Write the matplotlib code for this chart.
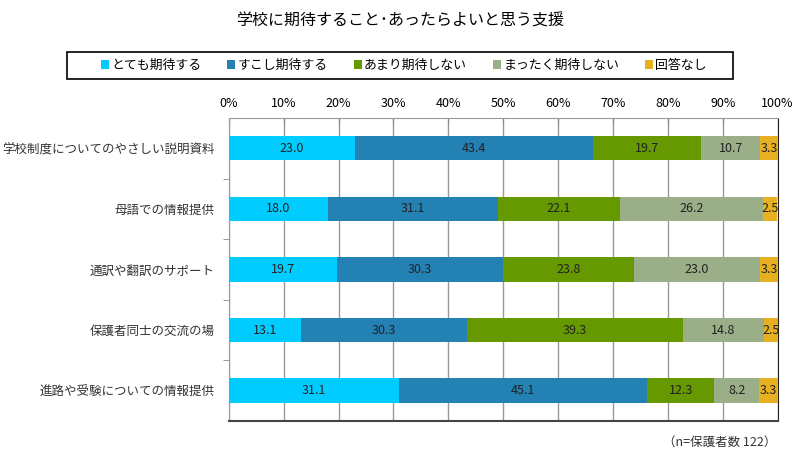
import matplotlib.pyplot as plt
from matplotlib.patches import Rectangle
import numpy as np

plt.rcParams['font.family'] = ['Noto Sans CJK JP', 'DejaVu Sans']

categories = ['学校制度についてのやさしい説明資料', '母語での情報提供', '通訳や翻訳のサポート',
              '保護者同士の交流の場', '進路や受験についての情報提供']
series = ['とても期待する', 'すこし期待する', 'あまり期待しない', 'まったく期待しない', '回答なし']
values = [
    [23.0, 18.0, 19.7, 13.1, 31.1],
    [43.4, 31.1, 30.3, 30.3, 45.1],
    [19.7, 22.1, 23.8, 39.3, 12.3],
    [10.7, 26.2, 23.0, 14.8, 8.2],
    [3.3, 2.5, 3.3, 2.5, 3.3],
]
colors = ['#00CCFF', '#2381B3', '#669900', '#9AAF87', '#E6B020']

fig = plt.figure(figsize=(8, 4.63), dpi=100)
ax = fig.add_axes([0.286, 0.091, 0.686, 0.654])

y = np.arange(len(categories))
left = np.zeros(len(categories))
for i in range(len(series)):
    v = np.array(values[i])
    ax.barh(y, v, left=left, height=0.4, color=colors[i], label=series[i], zorder=3)
    for j in range(len(categories)):
        ax.text(left[j] + v[j] / 2, y[j], '%.1f' % v[j], ha='center', va='center',
                fontsize=9, color='#222222', zorder=4)
    left += v

ax.set_xlim(0, 100)
ax.set_ylim(len(categories) - 0.5, -0.5)
ax.set_xticks(np.arange(0, 101, 10))
ax.set_xticklabels(['%d%%' % t for t in range(0, 101, 10)], fontsize=9)
ax.xaxis.tick_top()
ax.tick_params(axis='x', direction='in', length=4, color='#888888', pad=6)
ax.set_yticks(y)
ax.set_yticklabels(categories, fontsize=9, color='#333333')
ax.tick_params(axis='y', length=0, pad=10)
ax.set_yticks(np.arange(0.5, len(categories) - 1, 1), minor=True)
ax.tick_params(axis='y', which='minor', length=4, color='#888888')
ax.grid(axis='x', color='#999999', linewidth=1, zorder=0)
ax.spines['top'].set_color('#999999')
ax.spines['left'].set_color('#999999')
ax.spines['right'].set_color('#222222')
ax.spines['bottom'].set_color('#444444')
ax.spines['bottom'].set_linewidth(1.5)

fig.text(0.5, 0.955, '学校に期待すること･あったらよいと思う支援', ha='center', va='center', fontsize=11.5)
fig.legend(loc='center', bbox_to_anchor=(0.505, 0.8585), ncol=5, fontsize=9.3,
           handlelength=0.6, handleheight=0.6, handletextpad=0.2, columnspacing=2.0,
           frameon=False)
fig.patches.append(Rectangle((0.08375, 0.8294), 0.8325, 0.0583, transform=fig.transFigure,
                             fill=False, edgecolor='black', linewidth=1.2))
fig.text(0.97, 0.045, '（n=保護者数 122）', ha='right', va='center', fontsize=9, color='#333333')

fig.savefig('out.png', dpi=100)
